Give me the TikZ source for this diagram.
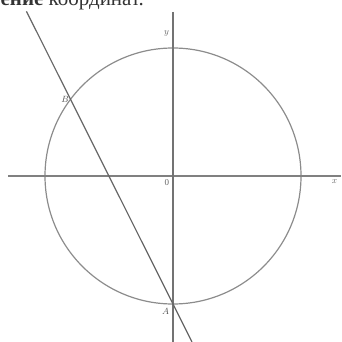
\documentclass[tikz,border=0pt]{standalone}
\usepackage{fontspec}
\setmainfont{Liberation Serif}
\usetikzlibrary{calc}

\begin{document}
\begin{tikzpicture}[x=1pt, y=-1pt, line width=1.2pt]
  \useasboundingbox (0,0) rectangle (341,342);
  % обрезанная строка текста сверху
  \begin{scope}
    \clip (0,0) rectangle (341,342);
    \node[anchor=base west, inner sep=0pt, font=\fontsize{21}{21}\selectfont, text=black!80] (head) at (0,6)
      {\textbf{ение} координат.};
  \end{scope}
  % окружность с центром O, радиус 128
  \coordinate (O) at (173,176);
  \coordinate (X0) at (8,176);
  \coordinate (X1) at (341,176);
  \coordinate (Y0) at (173,12);
  \coordinate (Y1) at (173,342);
  \coordinate (B) at ($(O)+(143.2:128 and -128)$);
  \coordinate (A) at ($(O)+(0,128)$);
  \coordinate (P) at ($(B)!-0.43!(A)$);
  \coordinate (Q) at ($(A)!-0.185!(B)$);
  \draw[black!45] (O) circle (128);
  \draw[black!50] (X0)--(X1);
  \draw[black!55] (Y0)--(Y1);
  \draw[black!60] (P)--(Q);
  \node[left, font=\small, text=black!60] at ($(Y0)+(0,21)$) {$y$};
  \node[below left, font=\small, text=black!60] at (O) {0};
  \node[below left, font=\small, text=black!60] at (X1) {$x$};
  \node[left, font=\small, text=black!70, inner sep=1pt] at (B) {$B$};
  \node[below left, font=\small, text=black!70] at (A) {$A$};
\end{tikzpicture}
\end{document}
